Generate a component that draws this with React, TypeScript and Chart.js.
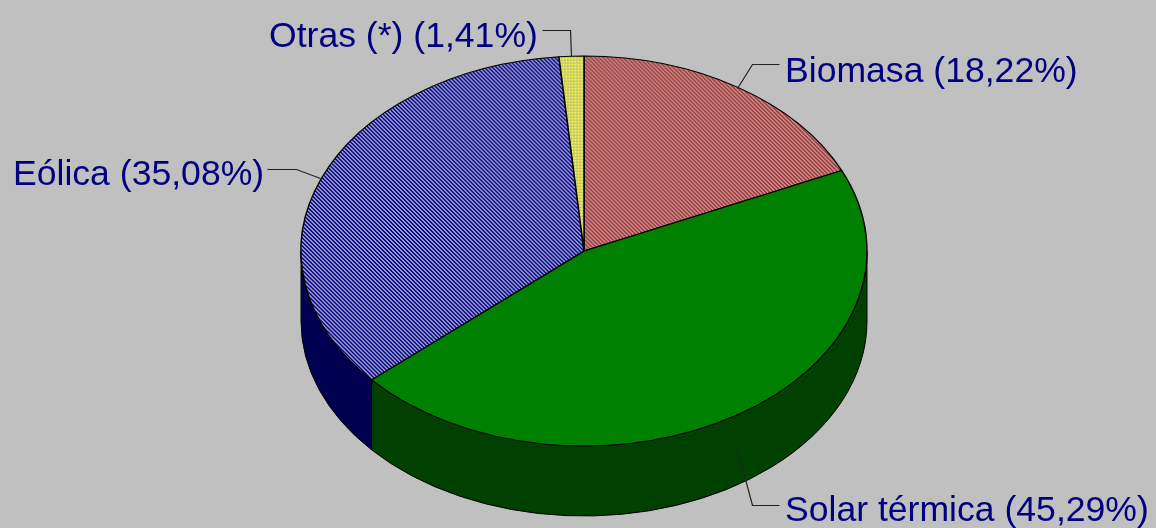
import React, { useEffect, useRef } from "react";
import { Chart, registerables } from "chart.js";

Chart.register(...registerables);

const categories = ["Biomasa", "Solar térmica", "Eólica", "Otras (*)"];
const shares = [18.22, 45.29, 35.08, 1.41];
const shareLabels = ["18,22%", "45,29%", "35,08%", "1,41%"];

const BG = "#c0c0c0";
const SIDE = ["#4d1a1a", "#004000", "#000050", "#808033"];
const W = 1156;
const H = 528;
const CX = 584;
const CY = 251;
const RX = 283;
const RY = 195;
const DEPTH = 70;

const labelLayout = [
  { x: 785, y: 72, line: [[737, 88], [752, 64], [779, 64]] },
  { x: 785, y: 511, line: [[737, 449], [752, 505], [779, 505]] },
  { x: 13, y: 175, line: [[320, 178], [296, 169], [267, 169]] },
  { x: 269, y: 37, line: [[571, 56], [570, 30], [542, 30]] },
];

function makePattern(size: number, a: string, b: string, on: (x: number, y: number) => boolean) {
  const c = document.createElement("canvas");
  c.width = size;
  c.height = size;
  const g = c.getContext("2d")!;
  g.fillStyle = b;
  g.fillRect(0, 0, size, size);
  g.fillStyle = a;
  for (let y = 0; y < size; y++) {
    for (let x = 0; x < size; x++) {
      if (on(x, y)) g.fillRect(x, y, 1, 1);
    }
  }
  const p = g.createPattern(c, "repeat")!;
  // cancel the horizontal stretch applied to the pie, so the hatch stays pixel sharp
  p.setTransform(new DOMMatrix().scale(RY / RX, 1));
  return p;
}

const diagonal = (x: number, y: number) => (x - y + 4) % 4 < 2;
const grid = (x: number, y: number) => x % 3 !== 0 && y % 3 !== 0;

const piePerspective = {
  id: "piePerspective",
  beforeDraw(chart: any) {
    const ctx = chart.ctx;
    ctx.save();
    ctx.fillStyle = BG;
    ctx.fillRect(0, 0, W, H);
    ctx.restore();
  },
  beforeDatasetsDraw(chart: any) {
    const ctx = chart.ctx;
    const arcs = chart.getDatasetMeta(0).data;
    const sx = RX / arcs[0].outerRadius;
    const sy = RY / arcs[0].outerRadius;
    const cx = arcs[0].x;
    const cy = arcs[0].y;
    arcs.forEach((arc: any, i: number) => {
      const from = Math.max(arc.startAngle, 0);
      const to = Math.min(arc.endAngle, Math.PI);
      if (to <= from) return;
      const r = arc.outerRadius;
      ctx.save();
      ctx.beginPath();
      ctx.ellipse(CX, CY, r * sx, r * sy, 0, from, to);
      ctx.ellipse(CX, CY + DEPTH, r * sx, r * sy, 0, to, from, true);
      ctx.closePath();
      ctx.fillStyle = SIDE[i];
      ctx.fill();
      ctx.strokeStyle = "#000";
      ctx.lineWidth = 1;
      ctx.stroke();
      ctx.restore();
    });
    ctx.save();
    ctx.translate(CX, CY);
    ctx.scale(sx, sy);
    ctx.translate(-cx, -cy);
  },
  afterDatasetsDraw(chart: any) {
    const ctx = chart.ctx;
    ctx.restore();
    ctx.save();
    ctx.font = '35.6px "Liberation Sans"';
    ctx.fillStyle = "#000080";
    ctx.textBaseline = "middle";
    ctx.textAlign = "left";
    categories.forEach((name, i) => {
      const l = labelLayout[i];
      ctx.beginPath();
      l.line.forEach(([x, y], j) => (j ? ctx.lineTo(x + 0.5, y + 0.5) : ctx.moveTo(x + 0.5, y + 0.5)));
      ctx.strokeStyle = "#222";
      ctx.lineWidth = 1.2;
      ctx.stroke();
      ctx.fillText(`${name} (${shareLabels[i]})`, l.x, l.y);
    });
    ctx.restore();
  },
};

export default function App() {
  const ref = useRef<HTMLCanvasElement>(null);
  useEffect(() => {
    document.body.style.margin = "0";
    const chart = new Chart(ref.current!, {
      type: "pie",
      data: {
        labels: categories,
        datasets: [
          {
            data: shares,
            backgroundColor: [
              makePattern(4, "#a83838", "#c09090", diagonal),
              "#008000",
              makePattern(4, "#000098", "#a4a4bc", diagonal),
              makePattern(3, "#f4f450", "#c0c070", grid),
            ],
            borderColor: "#000",
            borderWidth: 1,
            borderAlign: "center",
          },
        ],
      },
      plugins: [piePerspective],
      options: {
        responsive: false,
        animation: false,
        layout: { padding: { left: 389, right: 377, top: 56, bottom: 82 } },
        plugins: { legend: { display: false }, tooltip: { enabled: false } },
      },
    });
    return () => chart.destroy();
  }, []);
  return <canvas ref={ref} width={W} height={H} style={{ display: "block" }} />;
}
